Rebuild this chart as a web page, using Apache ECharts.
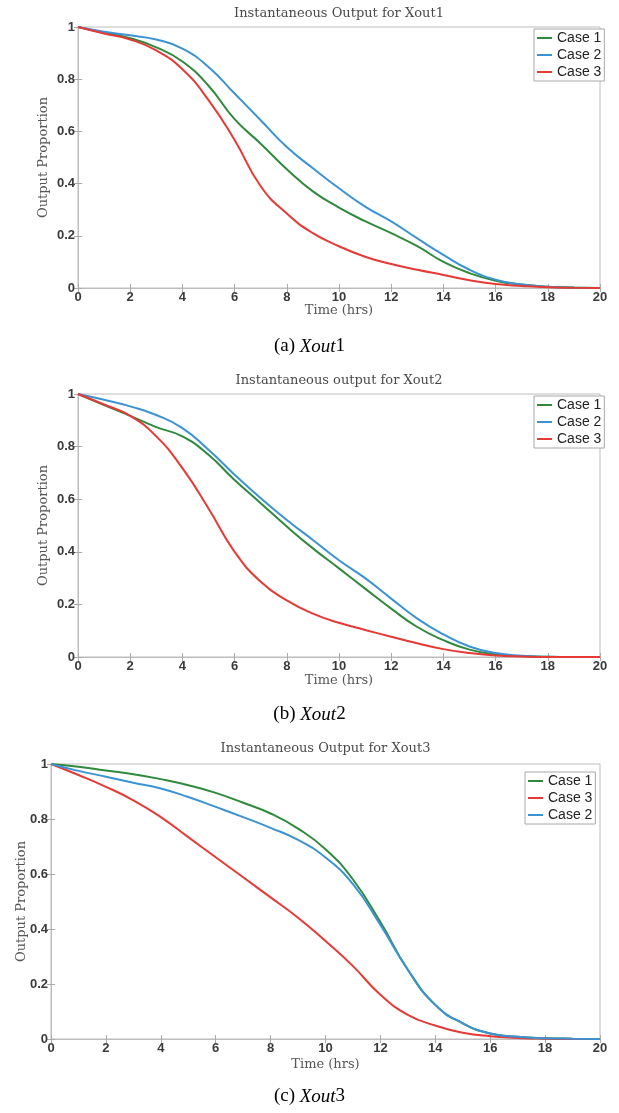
<!DOCTYPE html>
<html>
<head>
<meta charset="utf-8">
<script src="https://cdn.jsdelivr.net/npm/echarts@6/dist/echarts.min.js"></script>
<style>
html,body{margin:0;padding:0;background:#fff;}
#chart{width:619px;height:1113px;}
</style>
</head>
<body>
<div id="chart"></div>
<script>
// ---- data ----
const hours = [0,1,2,3,4,5,6,7,8,9,10,11,12,13,14,15,16,17,18,19,20];
const xTicks = [0,2,4,6,8,10,12,14,16,18,20];
const yTicks = [0,0.2,0.4,0.6,0.8,1];

const titles = ['Instantaneous Output for Xout1','Instantaneous output for Xout2','Instantaneous Output for Xout3'];
const captionLetters = ['(a) ','(b) ','(c) '];
const captionNames = ['Xout','Xout','Xout'];
const captionNums = ['1','2','3'];
const xName = 'Time (hrs)';
const yName = 'Output Proportion';

// Xout1
const x1Case1 = [1,0.978,0.957,0.922,0.868,0.775,0.647,0.553,0.455,0.37,0.308,0.256,0.21,0.16,0.10,0.057,0.028,0.013,0.005,0.002,0];
const x1Case2 = [1,0.982,0.968,0.952,0.917,0.847,0.745,0.643,0.54,0.459,0.382,0.312,0.255,0.19,0.127,0.07,0.032,0.013,0.005,0.001,0];
const x1Case3 = [1,0.975,0.952,0.91,0.838,0.72,0.567,0.39,0.285,0.21,0.16,0.12,0.092,0.07,0.05,0.03,0.015,0.008,0.003,0.001,0];
// Xout2
const x2Case1 = [1,0.958,0.917,0.874,0.839,0.769,0.673,0.585,0.496,0.413,0.337,0.26,0.184,0.114,0.064,0.028,0.01,0.004,0.001,0,0];
const x2Case2 = [1,0.978,0.953,0.92,0.87,0.788,0.693,0.604,0.521,0.445,0.368,0.30,0.222,0.146,0.086,0.04,0.015,0.005,0.001,0,0];
const x2Case3 = [1,0.96,0.917,0.839,0.718,0.565,0.40,0.286,0.215,0.165,0.13,0.103,0.077,0.052,0.03,0.015,0.006,0.002,0,0,0];
// Xout3
const x3Case1 = [1,0.99,0.976,0.963,0.945,0.923,0.895,0.859,0.82,0.765,0.69,0.58,0.425,0.252,0.124,0.057,0.02,0.008,0.003,0.001,0];
const x3Case3 = [1,0.96,0.917,0.868,0.807,0.734,0.661,0.588,0.515,0.441,0.356,0.265,0.161,0.088,0.049,0.023,0.01,0.004,0.001,0,0];
const x3Case2 = [1,0.975,0.954,0.932,0.911,0.88,0.844,0.807,0.768,0.724,0.66,0.563,0.415,0.252,0.124,0.057,0.02,0.008,0.003,0.001,0];

const panelSeries = [
  [['Case 1', x1Case1], ['Case 2', x1Case2], ['Case 3', x1Case3]],
  [['Case 1', x2Case1], ['Case 2', x2Case2], ['Case 3', x2Case3]],
  [['Case 1', x3Case1], ['Case 3', x3Case3], ['Case 2', x3Case2]]
];

// ---- styling / layout ----
const colors = {'Case 1':'#2f8a3c','Case 2':'#3b93d3','Case 3':'#e53a35'};
const grids = [
  {left:78, top:27, width:522, height:261},
  {left:78, top:394, width:522, height:263},
  {left:51, top:764, width:549, height:275}
];
const legendPos = [
  {left:534, top:29},
  {left:534, top:396},
  {left:525, top:772}
];
const titleTop = [7, 374, 742];
const captionTop = [337, 705, 1087];
const yNameGap = [28, 28, 23];
const xNameGap = [16, 17, 19];
const serif = '"DejaVu Serif",serif';
const capSerif = '"Liberation Serif","Times New Roman",serif';
const sans = '"Liberation Sans",Arial,sans-serif';

const option = {
  backgroundColor:'#fff',
  animation:false,
  title:[], legend:[], grid:[], xAxis:[], yAxis:[], series:[], graphic:[]
};

grids.forEach((g,i)=>{
  option.grid.push({left:g.left, top:g.top, width:g.width, height:g.height, show:true, borderColor:'#bdbdbd', borderWidth:1, backgroundColor:'#fff'});
  option.title.push({
    text: titles[i], left: g.left + g.width/2, top: titleTop[i], textAlign:'center', padding:0,
    textStyle:{fontFamily:serif, fontSize:13, fontWeight:'normal', color:'#4a4a4a'}
  });
  const tickStyle = {show:true, inside:true, length:4, lineStyle:{color:'#aaa'}};
  option.xAxis.push({
    gridIndex:i, type:'value', min:0, max:20, interval:2, position:'bottom',
    name:xName, nameLocation:'middle', nameGap:xNameGap[i], nameMoveOverlap:false,
    nameTextStyle:{fontFamily:serif, fontSize:13, color:'#555'},
    axisLine:{show:true, lineStyle:{color:'#bdbdbd'}},
    axisTick:tickStyle, splitLine:{show:false},
    axisLabel:{margin:3, fontFamily:sans, fontSize:13, fontWeight:'bold', color:'#3a3a3a'}
  });
  option.xAxis.push({
    gridIndex:i, type:'value', min:0, max:20, interval:2, position:'top',
    axisLine:{show:true, lineStyle:{color:'#bdbdbd'}},
    axisTick:tickStyle, axisLabel:{show:false}, splitLine:{show:false}
  });
  option.yAxis.push({
    gridIndex:i, type:'value', min:0, max:1, interval:0.2, position:'left',
    name:yName, nameLocation:'middle', nameGap:yNameGap[i], nameMoveOverlap:false,
    nameTextStyle:{fontFamily:serif, fontSize:13, color:'#555'},
    axisLine:{show:true, lineStyle:{color:'#bdbdbd'}},
    axisTick:tickStyle, splitLine:{show:false},
    axisLabel:{margin:3, fontFamily:sans, fontSize:13, fontWeight:'bold', color:'#3a3a3a',
      formatter: v => String(+v.toFixed(1))}
  });
  option.yAxis.push({
    gridIndex:i, type:'value', min:0, max:1, interval:0.2, position:'right',
    axisLine:{show:true, lineStyle:{color:'#bdbdbd'}},
    axisTick:tickStyle, axisLabel:{show:false}, splitLine:{show:false}
  });
  option.legend.push({
    left:legendPos[i].left, top:legendPos[i].top, orient:'vertical',
    data: panelSeries[i].map(s=>s[0]),
    icon:'rect', itemWidth:15, itemHeight:2, itemGap:3, itemTextGap:1,
    padding:[2,3,2,3], borderColor:'#a8a8a8', borderWidth:1, backgroundColor:'#fff',
    textStyle:{fontFamily:sans, fontSize:14, lineHeight:14, color:'#222'}
  });
  panelSeries[i].forEach(([name, vals])=>{
    option.series.push({
      name, type:'line', xAxisIndex:i*2, yAxisIndex:i*2,
      data: hours.map((h,k)=>[h, vals[k]]),
      smooth:0.5, showSymbol:false, symbol:'none',
      lineStyle:{width:2, color:colors[name]}, itemStyle:{color:colors[name]}
    });
  });
  option.graphic.push({
    type:'text', left:'center', top:captionTop[i],
    style:{
      text:'{a|' + captionLetters[i] + '}{b|' + captionNames[i] + '}{a|' + captionNums[i] + '}',
      rich:{
        a:{fontFamily:capSerif, fontSize:19, color:'#111'},
        b:{fontFamily:capSerif, fontSize:19, fontStyle:'italic', color:'#111'}
      }
    }
  });
});

const chart = echarts.init(document.getElementById('chart'));
chart.setOption(option);
</script>
</body>
</html>
